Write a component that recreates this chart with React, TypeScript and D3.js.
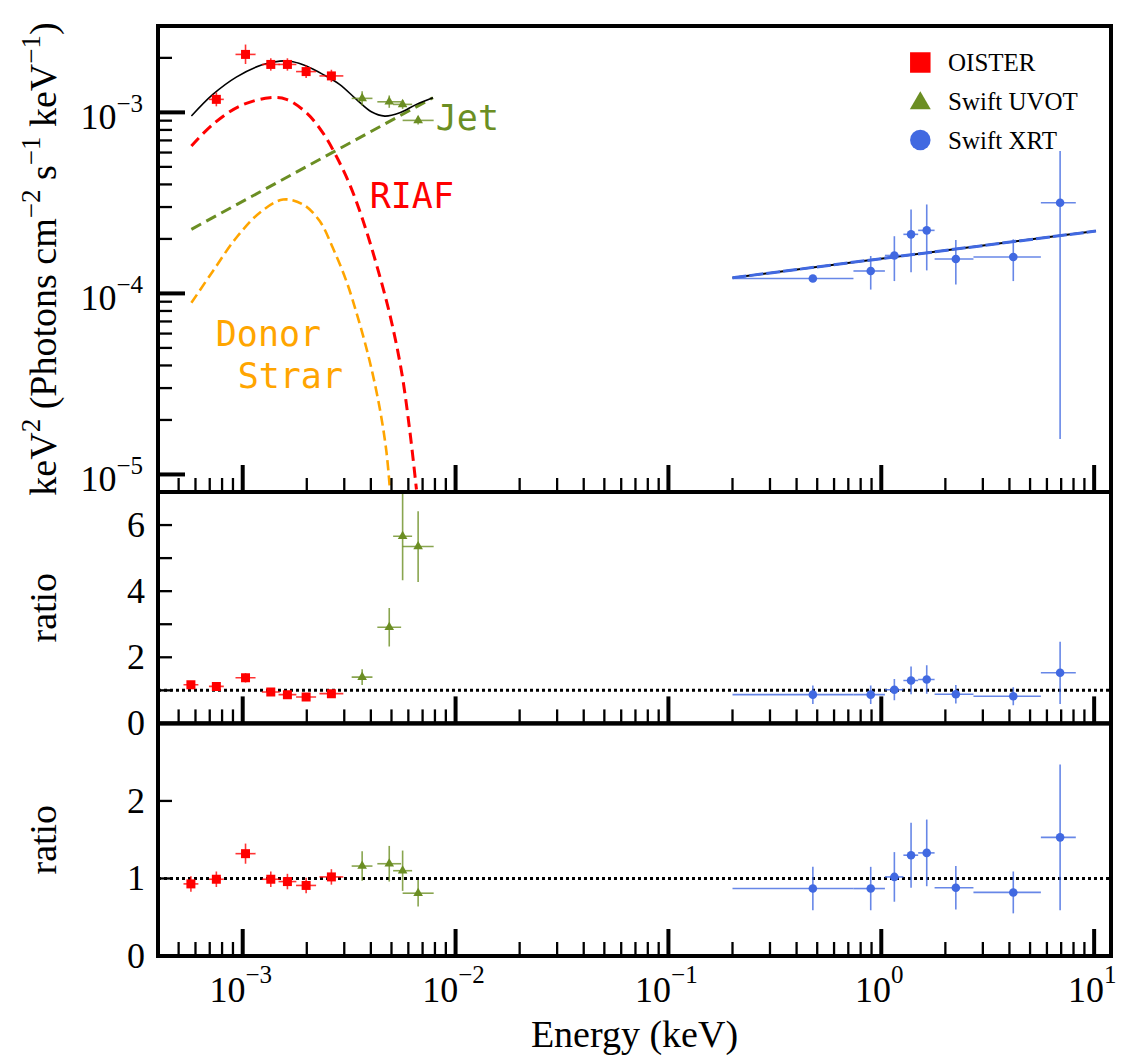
import React, { useEffect, useRef } from 'react';
import * as d3 from 'd3';

// ---- OISTER (red squares) ----
const oisterE = [5.71e-4, 7.52e-4, 1.031e-3, 1.355e-3, 1.622e-3, 1.986e-3, 2.61e-3];
const oisterElo = [5.27e-4, 6.94e-4, 9.25e-4, 1.23e-3, 1.473e-3, 1.781e-3, 2.294e-3];
const oisterEhi = [6.19e-4, 8.15e-4, 1.149e-3, 1.493e-3, 1.787e-3, 2.212e-3, 2.97e-3];
const oisterFlux = [null, 1.18e-3, 2.09e-3, 1.84e-3, 1.84e-3, 1.68e-3, 1.59e-3];
const oisterFluxLo = [null, 1.08e-3, 1.85e-3, 1.7e-3, 1.7e-3, 1.55e-3, 1.47e-3];
const oisterFluxHi = [null, 1.29e-3, 2.37e-3, 1.99e-3, 1.99e-3, 1.82e-3, 1.72e-3];
const oisterRatioA = [1.17, 1.12, 1.38, 0.95, 0.87, 0.8, 0.9];
const oisterRatioAErr = [0.1, 0.1, 0.14, 0.1, 0.1, 0.1, 0.1];
const oisterRatioB = [0.93, 0.99, 1.32, 0.99, 0.96, 0.91, 1.02];
const oisterRatioBErr = [0.1, 0.1, 0.13, 0.1, 0.1, 0.1, 0.1];

// ---- Swift UVOT (green triangles) ----
const uvotE = [3.64e-3, 4.88e-3, 5.64e-3, 6.67e-3];
const uvotElo = [3.25e-3, 4.29e-3, 5.09e-3, 5.64e-3];
const uvotEhi = [4.07e-3, 5.55e-3, 6.25e-3, 7.89e-3];
const uvotFlux = [1.195e-3, 1.144e-3, 1.107e-3, 9.03e-4];
const uvotFluxLo = [1.09e-3, 1.06e-3, 1.045e-3, 8.58e-4];
const uvotFluxHi = [1.31e-3, 1.24e-3, 1.17e-3, 9.5e-4];
const uvotRatioA = [1.4, 2.91, 5.66, 5.35];
const uvotRatioAErr = [0.24, 0.58, 1.33, 1.07];
const uvotRatioB = [1.16, 1.19, 1.1, 0.81];
const uvotRatioBErr = [0.19, 0.23, 0.26, 0.17];

// ---- Swift XRT (blue circles) ----
const xrtE = [0.477, 0.892, 1.152, 1.38, 1.635, 2.24, 4.17, 6.92];
const xrtElo = [0.2, 0.74, 1.04, 1.27, 1.49, 1.78, 2.71, 5.62];
const xrtEhi = [0.74, 1.04, 1.27, 1.49, 1.78, 2.71, 5.62, 8.2];
const xrtFlux = [1.21e-4, 1.33e-4, 1.62e-4, 2.12e-4, 2.23e-4, 1.55e-4, 1.59e-4, 3.17e-4];
const xrtFluxLo = [1.21e-4, 1.05e-4, 1.17e-4, 1.31e-4, 1.34e-4, 1.12e-4, 1.17e-4, 1.57e-5];
const xrtFluxHi = [1.21e-4, 1.61e-4, 2.07e-4, 2.91e-4, 3.1e-4, 1.97e-4, 1.99e-4, 6.11e-4];
const xrtRatio = [0.87, 0.87, 1.02, 1.3, 1.33, 0.88, 0.82, 1.53];
const xrtRatioErr = [0.28, 0.28, 0.32, 0.42, 0.43, 0.28, 0.27, 0.94];

// ---- model curves ----
const totalE = [5.74e-4, 7.24e-4, 9.33e-4, 1.225e-3, 1.493e-3, 1.722e-3, 1.991e-3, 2.38e-3, 2.85e-3, 3.42e-3, 4.02e-3, 4.65e-3, 5.47e-3, 6.55e-3, 7.83e-3];
const totalF = [9.54e-4, 1.256e-3, 1.566e-3, 1.825e-3, 1.92e-3, 1.905e-3, 1.803e-3, 1.622e-3, 1.428e-3, 1.18e-3, 1.008e-3, 9.54e-4, 9.95e-4, 1.107e-3, 1.205e-3];
const riafE = [5.74e-4, 7.24e-4, 9.68e-4, 1.34e-3, 1.604e-3, 1.991e-3, 2.38e-3, 2.75e-3, 3.18e-3, 3.68e-3, 4.25e-3, 4.91e-3, 5.57e-3, 6.1e-3, 6.55e-3];
const riafF = [6.52e-4, 8.59e-4, 1.083e-3, 1.205e-3, 1.18e-3, 9.95e-4, 7.71e-4, 5.74e-4, 4.0e-4, 2.51e-4, 1.445e-4, 7.65e-5, 3.72e-5, 1.73e-5, 8.26e-6];
const donorE = [5.74e-4, 7.24e-4, 9.33e-4, 1.202e-3, 1.547e-3, 1.92e-3, 2.3e-3, 2.65e-3, 3.07e-3, 3.48e-3, 3.95e-3, 4.4e-3, 4.73e-3, 4.91e-3];
const donorF = [8.87e-5, 1.327e-4, 2.03e-4, 2.79e-4, 3.3e-4, 3.1e-4, 2.51e-4, 1.786e-4, 1.169e-4, 7.33e-5, 4.22e-5, 2.33e-5, 1.345e-5, 8.43e-6];
const jetE = [5.74e-4, 7.83e-3];
const jetF = [2.26e-4, 1.205e-3];
const xrtModelE = [0.2, 10.2];
const xrtModelF = [1.22e-4, 2.21e-4];

// ---- axis ticks ----
const majorX = [1e-3, 1e-2, 1e-1, 1, 10];
const majorXExp = ['\u22123', '\u22122', '\u22121', '0', '1'];
const majorYTop = [1e-3, 1e-4, 1e-5];
const majorYTopExp = ['\u22123', '\u22124', '\u22125'];
const ratioATicks = [0, 1, 2, 3, 4, 5, 6, 7];
const ratioALabels = [0, 2, 4, 6];
const ratioBTicks = [0, 1, 2, 3];
const ratioBLabels = [0, 1, 2];

const annotations = [
  { text: 'Jet', e: 8.07e-3, f: 7.98e-4, color: 'olivedrab' },
  { text: 'RIAF', e: 3.95e-3, f: 2.98e-4, color: 'red' },
  { text: 'Donor', e: 7.47e-4, f: 5.12e-5, color: 'orange' },
  { text: 'Strar', e: 9.47e-4, f: 3.02e-5, color: 'orange' },
];

const legendItems = [
  { label: 'OISTER', color: 'red', shape: 'square' },
  { label: 'Swift UVOT', color: 'olivedrab', shape: 'triangle' },
  { label: 'Swift XRT', color: 'royalblue', shape: 'circle' },
];

const SERIF = '"Liberation Serif", "Times New Roman", serif';
const MONO = '"DejaVu Sans Mono", monospace';

function minorTicks(lo, hi) {
  const out = [];
  for (let k = -5; k <= 2; k++) {
    for (let m = 2; m <= 9; m++) {
      const v = m * Math.pow(10, k);
      if (v > lo && v < hi) out.push(v);
    }
  }
  return out;
}

export default function App() {
  const ref = useRef(null);

  useEffect(() => {
    const svg = d3.select(ref.current);
    svg.selectAll('*').remove();

    const left = 158;
    const right = 1111;
    const topY = [26, 492];
    const midY = [492, 723.4];
    const botY = [723.4, 956];

    const x = d3.scaleLog().domain([4e-4, 12]).range([left, right]);
    const yTop = d3.scaleLog().domain([8e-6, 3e-3]).range([topY[1], topY[0]]);
    const yMid = d3.scaleLinear().domain([0, 7]).range([midY[1], midY[0]]);
    const yBot = d3.scaleLinear().domain([0, 3]).range([botY[1], botY[0]]);

    const defs = svg.append('defs');
    [['clip-top', topY], ['clip-mid', midY], ['clip-bot', botY]].forEach(([id, r]) => {
      defs
        .append('clipPath')
        .attr('id', id)
        .append('rect')
        .attr('x', left)
        .attr('y', r[0])
        .attr('width', right - left)
        .attr('height', r[1] - r[0]);
    });

    const gTop = svg.append('g').attr('clip-path', 'url(#clip-top)');
    const gMid = svg.append('g').attr('clip-path', 'url(#clip-mid)');
    const gBot = svg.append('g').attr('clip-path', 'url(#clip-bot)');

    // ---- x ticks on bottom of every panel ----
    const xMinor = minorTicks(4e-4, 12);
    [topY[1], midY[1], botY[1]].forEach((yb) => {
      svg
        .selectAll(null)
        .data(xMinor)
        .enter()
        .append('line')
        .attr('x1', (d) => x(d))
        .attr('x2', (d) => x(d))
        .attr('y1', yb)
        .attr('y2', yb - 14)
        .attr('stroke', 'black')
        .attr('stroke-width', 2.3);
      svg
        .selectAll(null)
        .data(majorX)
        .enter()
        .append('line')
        .attr('x1', (d) => x(d))
        .attr('x2', (d) => x(d))
        .attr('y1', yb)
        .attr('y2', yb - 27)
        .attr('stroke', 'black')
        .attr('stroke-width', 4);
    });

    // ---- y ticks top panel ----
    const yMinorTop = minorTicks(8e-6, 3e-3);
    svg
      .selectAll(null)
      .data(yMinorTop)
      .enter()
      .append('line')
      .attr('x1', left)
      .attr('x2', left + 14)
      .attr('y1', (d) => yTop(d))
      .attr('y2', (d) => yTop(d))
      .attr('stroke', 'black')
      .attr('stroke-width', 2.3);
    svg
      .selectAll(null)
      .data(majorYTop)
      .enter()
      .append('line')
      .attr('x1', left)
      .attr('x2', left + 27)
      .attr('y1', (d) => yTop(d))
      .attr('y2', (d) => yTop(d))
      .attr('stroke', 'black')
      .attr('stroke-width', 4);

    [
      [ratioATicks, yMid],
      [ratioBTicks, yBot],
    ].forEach(([ticks, sc]) => {
      svg
        .selectAll(null)
        .data(ticks)
        .enter()
        .append('line')
        .attr('x1', left)
        .attr('x2', left + 14)
        .attr('y1', (d) => sc(d))
        .attr('y2', (d) => sc(d))
        .attr('stroke', 'black')
        .attr('stroke-width', 2.3);
    });

    // ---- tick labels ----
    majorX.forEach((v, i) => {
      const t = svg
        .append('text')
        .attr('x', x(v) - 2)
        .attr('y', 1002)
        .attr('text-anchor', 'middle')
        .style('font-family', SERIF)
        .style('font-size', '36px');
      t.append('tspan').text('10');
      t.append('tspan').attr('dy', -19).style('font-size', '25px').text(majorXExp[i]);
    });
    majorYTop.forEach((v, i) => {
      const t = svg
        .append('text')
        .attr('x', 143)
        .attr('y', yTop(v) + 17)
        .attr('text-anchor', 'end')
        .style('font-family', SERIF)
        .style('font-size', '36px');
      t.append('tspan').text('10');
      t.append('tspan').attr('dy', -17).style('font-size', '25px').text(majorYTopExp[i]);
    });
    [
      [ratioALabels, yMid],
      [ratioBLabels, yBot],
    ].forEach(([labels, sc]) => {
      svg
        .selectAll(null)
        .data(labels)
        .enter()
        .append('text')
        .attr('x', 145)
        .attr('y', (d) => sc(d) + 12)
        .attr('text-anchor', 'end')
        .style('font-family', SERIF)
        .style('font-size', '36px')
        .text((d) => d);
    });

    // ---- axis titles ----
    svg
      .append('text')
      .attr('x', (left + right) / 2)
      .attr('y', 1047)
      .attr('text-anchor', 'middle')
      .style('font-family', SERIF)
      .style('font-size', '38px')
      .text('Energy (keV)');

    const yt = svg
      .append('text')
      .attr('transform', 'translate(56,' + (topY[0] + topY[1]) / 2 + ') rotate(-90)')
      .attr('text-anchor', 'middle')
      .style('font-family', SERIF)
      .style('font-size', '38px');
    const parts = [
      ['keV', 0],
      ['2', 1],
      [' (Photons cm', 0],
      ['\u22122', 1],
      [' s', 0],
      ['\u22121', 1],
      [' keV', 0],
      ['\u22121', 1],
      [')', 0],
    ];
    let up = false;
    parts.forEach(([s, sup]) => {
      const ts = yt.append('tspan').text(s);
      if (sup && !up) {
        ts.attr('dy', -16).style('font-size', '27px');
        up = true;
      } else if (sup) {
        ts.style('font-size', '27px');
      } else if (up) {
        ts.attr('dy', 16);
        up = false;
      }
    });
    [midY, botY].forEach((r) => {
      svg
        .append('text')
        .attr('transform', 'translate(56,' + (r[0] + r[1]) / 2 + ') rotate(-90)')
        .attr('text-anchor', 'middle')
        .style('font-family', SERIF)
        .style('font-size', '38px')
        .text('ratio');
    });

    // ---- model lines (top) ----
    const lineTop = (curve) =>
      d3
        .line()
        .x((d) => x(d[0]))
        .y((d) => yTop(d[1]))
        .curve(curve);
    const zip = (a, b) => a.map((v, i) => [v, b[i]]);

    gTop
      .append('path')
      .attr('d', lineTop(d3.curveLinear)(zip(jetE, jetF)))
      .attr('fill', 'none')
      .attr('stroke', 'olivedrab')
      .attr('stroke-width', 3)
      .attr('stroke-dasharray', '11,6');
    gTop
      .append('path')
      .attr('d', lineTop(d3.curveCatmullRom)(zip(donorE, donorF)))
      .attr('fill', 'none')
      .attr('stroke', 'orange')
      .attr('stroke-width', 2.6)
      .attr('stroke-dasharray', '10,5');
    gTop
      .append('path')
      .attr('d', lineTop(d3.curveCatmullRom)(zip(riafE, riafF)))
      .attr('fill', 'none')
      .attr('stroke', 'red')
      .attr('stroke-width', 3)
      .attr('stroke-dasharray', '11,6');
    gTop
      .append('path')
      .attr('d', lineTop(d3.curveCatmullRom)(zip(totalE, totalF)))
      .attr('fill', 'none')
      .attr('stroke', 'black')
      .attr('stroke-width', 1.6);
    gTop
      .append('path')
      .attr('d', lineTop(d3.curveLinear)(zip(xrtModelE, xrtModelF)))
      .attr('fill', 'none')
      .attr('stroke', 'black')
      .attr('stroke-width', 2);
    gTop
      .append('path')
      .attr('d', lineTop(d3.curveLinear)(zip(xrtModelE, xrtModelF)))
      .attr('fill', 'none')
      .attr('stroke', 'royalblue')
      .attr('stroke-width', 3)
      .attr('stroke-dasharray', '14,3');

    annotations.forEach((a) => {
      svg
        .append('text')
        .attr('x', x(a.e))
        .attr('y', yTop(a.f))
        .style('font-family', MONO)
        .style('font-size', '35px')
        .style('fill', a.color)
        .text(a.text);
    });

    // ---- reference lines at ratio 1 ----
    [
      [gMid, yMid],
      [gBot, yBot],
    ].forEach(([g, sc]) => {
      g.append('line')
        .attr('x1', left)
        .attr('x2', right)
        .attr('y1', sc(1))
        .attr('y2', sc(1))
        .attr('stroke', 'black')
        .attr('stroke-width', 3)
        .attr('stroke-dasharray', '3,3');
    });

    // ---- data points ----
    const drawSet = (g, ys, E, Elo, Ehi, V, Vlo, Vhi, color, shape) => {
      const idx = V.map((v, i) => i).filter((i) => V[i] !== null);
      g.selectAll(null)
        .data(idx)
        .enter()
        .append('line')
        .attr('x1', (i) => x(Elo[i]))
        .attr('x2', (i) => x(Ehi[i]))
        .attr('y1', (i) => ys(V[i]))
        .attr('y2', (i) => ys(V[i]))
        .attr('stroke', color)
        .attr('stroke-opacity', 0.8)
        .attr('stroke-width', 1.6);
      g.selectAll(null)
        .data(idx)
        .enter()
        .append('line')
        .attr('x1', (i) => x(E[i]))
        .attr('x2', (i) => x(E[i]))
        .attr('y1', (i) => ys(Vlo[i]))
        .attr('y2', (i) => ys(Vhi[i]))
        .attr('stroke', color)
        .attr('stroke-opacity', 0.8)
        .attr('stroke-width', 1.6);
      const sym =
        shape === 'square'
          ? d3.symbol(d3.symbolSquare, 81)
          : shape === 'triangle'
          ? d3.symbol(d3.symbolTriangle, 40)
          : d3.symbol(d3.symbolCircle, 58);
      g.selectAll(null)
        .data(idx)
        .enter()
        .append('path')
        .attr('d', sym)
        .attr('transform', (i) => 'translate(' + x(E[i]) + ',' + ys(V[i]) + ')')
        .attr('fill', color);
    };

    drawSet(gTop, yTop, oisterE, oisterElo, oisterEhi, oisterFlux, oisterFluxLo, oisterFluxHi, 'red', 'square');
    drawSet(gTop, yTop, uvotE, uvotElo, uvotEhi, uvotFlux, uvotFluxLo, uvotFluxHi, 'olivedrab', 'triangle');
    drawSet(gTop, yTop, xrtE, xrtElo, xrtEhi, xrtFlux, xrtFluxLo, xrtFluxHi, 'royalblue', 'circle');

    const lo = (v, e) => v.map((d, i) => d - e[i]);
    const hi = (v, e) => v.map((d, i) => d + e[i]);
    drawSet(gMid, yMid, oisterE, oisterElo, oisterEhi, oisterRatioA, lo(oisterRatioA, oisterRatioAErr), hi(oisterRatioA, oisterRatioAErr), 'red', 'square');
    drawSet(gMid, yMid, uvotE, uvotElo, uvotEhi, uvotRatioA, lo(uvotRatioA, uvotRatioAErr), hi(uvotRatioA, uvotRatioAErr), 'olivedrab', 'triangle');
    drawSet(gMid, yMid, xrtE, xrtElo, xrtEhi, xrtRatio, lo(xrtRatio, xrtRatioErr), hi(xrtRatio, xrtRatioErr), 'royalblue', 'circle');
    drawSet(gBot, yBot, oisterE, oisterElo, oisterEhi, oisterRatioB, lo(oisterRatioB, oisterRatioBErr), hi(oisterRatioB, oisterRatioBErr), 'red', 'square');
    drawSet(gBot, yBot, uvotE, uvotElo, uvotEhi, uvotRatioB, lo(uvotRatioB, uvotRatioBErr), hi(uvotRatioB, uvotRatioBErr), 'olivedrab', 'triangle');
    drawSet(gBot, yBot, xrtE, xrtElo, xrtEhi, xrtRatio, lo(xrtRatio, xrtRatioErr), hi(xrtRatio, xrtRatioErr), 'royalblue', 'circle');

    // ---- legend ----
    legendItems.forEach((item, i) => {
      const cy = 62.5 + i * 38.8;
      const sym =
        item.shape === 'square'
          ? d3.symbol(d3.symbolSquare, 420)
          : item.shape === 'triangle'
          ? d3.symbol(d3.symbolTriangle, 190)
          : d3.symbol(d3.symbolCircle, 330);
      svg
        .append('path')
        .attr('d', sym)
        .attr('transform', 'translate(920.3,' + (item.shape === 'triangle' ? cy + 2 : cy) + ')')
        .attr('fill', item.color);
      svg
        .append('text')
        .attr('x', 948)
        .attr('y', cy + 8.5)
        .style('font-family', SERIF)
        .style('font-size', '25px')
        .text(item.label);
    });

    // ---- frames ----
    [topY, midY, botY].forEach((r) => {
      svg
        .append('rect')
        .attr('x', left)
        .attr('y', r[0])
        .attr('width', right - left)
        .attr('height', r[1] - r[0])
        .attr('fill', 'none')
        .attr('stroke', 'black')
        .attr('stroke-width', 4);
    });
  }, []);

  return (
    <svg
      ref={ref}
      width={1126}
      height={1063}
      style={{ position: 'absolute', left: 0, top: 0, background: 'white' }}
    />
  );
}
